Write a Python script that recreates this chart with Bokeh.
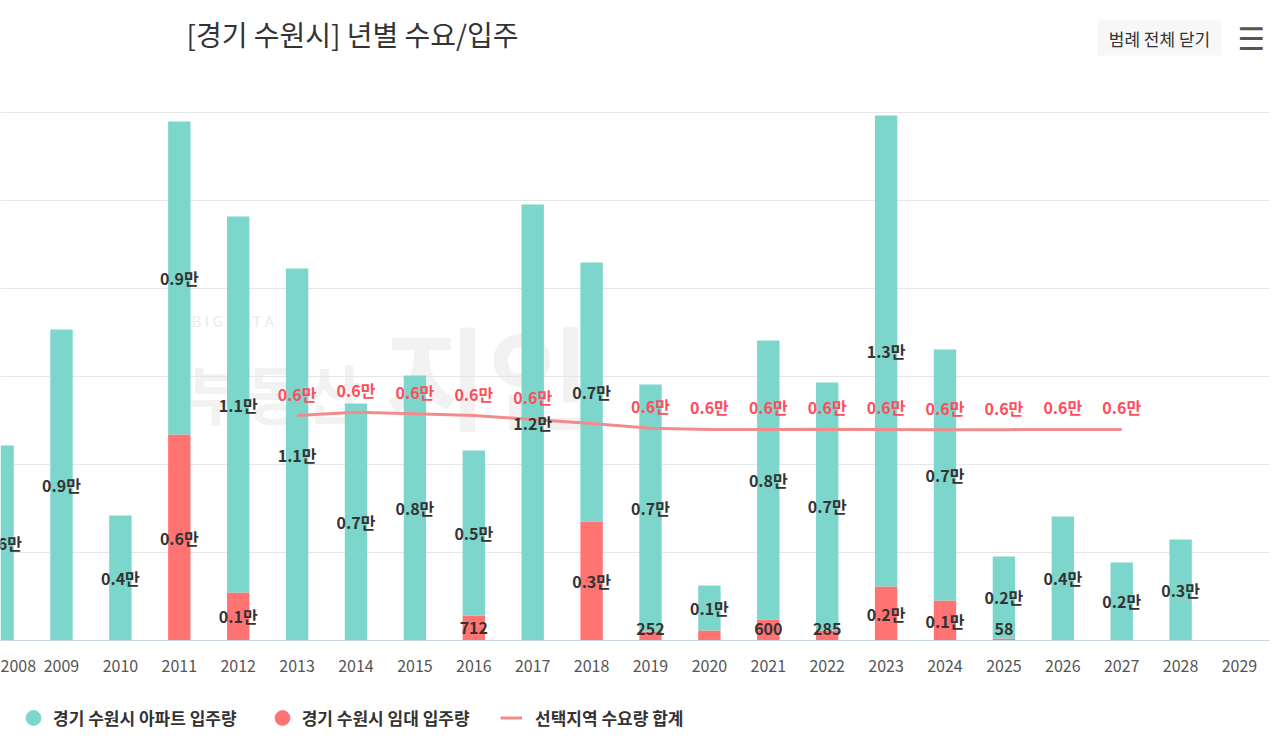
from bokeh.plotting import figure
from bokeh.layouts import column
from bokeh.models import Range1d, FixedTicker, Label, Legend, LegendItem, BoxAnnotation
from bokeh.core.properties import value
from bokeh.embed import file_html
from bokeh.resources import INLINE

# ---- data ----
years = list(range(2008, 2030))
apt_supply = [5540, 8835, 3551, 8892, 10681, 10568, 6733, 7530, 4686, 12386, 7358,
              7021, 1279, 7923, 7045, 13381, 7131, 2328, 3523, 2216, 2869, 0]
rent_supply = [0, 0, 0, 5852, 1364, 0, 0, 0, 712, 0, 3381,
               252, 284, 600, 285, 1534, 1136, 58, 0, 0, 0, 0]
demand_years = list(range(2013, 2028))
demand = [6392, 6486, 6441, 6392, 6279, 6165, 6032, 5995, 5995, 6000,
          5995, 5990, 5990, 5995, 5995]
rent_label_hidden = [2020]      # labels hidden in the original because they overlap
demand_label_hidden = [2018]
grid_ticks = [2500, 5000, 7500, 10000, 12500, 15000]

title_text = "[경기 수원시] 년별 수요/입주"
button_text = "범례 전체 닫기"
legend_names = ["경기 수원시 아파트 입주량", "경기 수원시 임대 입주량", "선택지역 수요량 합계"]

TEAL = "#7dd6cc"
RED = "#ff7373"
LINE = "#f28c8c"
LABEL_RED = "#ff4d5c"
WATERMARK = "#f2f2f2"
FONT = "Noto Sans CJK KR"

# ---- layout geometry (pixels) ----
W = 1280
MAIN_H = 676
LEGEND_H = 60
FRAME_RIGHT = 1269          # right edge of plot area
AXIS_Y = 640                # pixel row of the value 0
TOP_GRID_Y = 112            # pixel row of the top grid value
STEP = 58.9                 # pixels per category
FIRST_CAT_X = 61            # pixel column of 2009
X0 = 2009 - FIRST_CAT_X / STEP
X1 = X0 + FRAME_RIGHT / STEP
UNITS_PER_PX = grid_ticks[-1] / (AXIS_Y - TOP_GRID_Y)
Y1 = AXIS_Y * UNITS_PER_PX


def x_of(px):
    return X0 + px / STEP


def y_of(py):
    return (AXIS_Y - py) * UNITS_PER_PX


def fmt(v):
    if v >= 1000:
        return f"{v / 10000:.1f}만"
    return str(v)


p = figure(width=W, height=MAIN_H, output_backend="svg", toolbar_location=None,
           x_range=Range1d(X0, X1), y_range=Range1d(0, Y1),
           min_border_left=0, min_border_right=W - FRAME_RIGHT, min_border_top=0,
           min_border_bottom=MAIN_H - AXIS_Y)
p.outline_line_color = None
p.background_fill_color = "white"
p.border_fill_color = "white"

# watermark (background logo)
p.add_layout(Label(x=x_of(191), y=y_of(320), text="B  I  G  D  A  T  A", text_font=FONT,
                   text_font_size="15px", text_color="#ebebeb", text_baseline="middle",
                   level="image"))
p.add_layout(Label(x=x_of(186), y=y_of(390), text="부동산", text_font=FONT,
                   text_font_style="bold", text_font_size="64px",
                   text_color=WATERMARK, text_baseline="middle", level="image"))
p.add_layout(Label(x=x_of(384), y=y_of(372), text="지인", text_font=FONT,
                   text_font_style="bold", text_font_size="112px",
                   text_color=WATERMARK, text_baseline="middle", level="image"))

# bars
tops_all = [r + a for r, a in zip(rent_supply, apt_supply)]
p.vbar(x=years, bottom=0, top=rent_supply, width=0.38, color=RED, line_color=None)
p.vbar(x=years, bottom=rent_supply, top=tops_all, width=0.38, color=TEAL, line_color=None)

# demand line
p.line(demand_years, demand, line_color=LINE, line_width=3)

# bar labels
lx, ly, lt = [], [], []
for yr, a, r in zip(years, apt_supply, rent_supply):
    if a > 0:
        lx.append(yr); ly.append(r + a / 2); lt.append(fmt(a))
    if r > 0 and yr not in rent_label_hidden:
        lx.append(yr); ly.append(max(r / 2, 12 * UNITS_PER_PX)); lt.append(fmt(r))
p.text(x=lx, y=ly, text=lt, text_align="center", text_baseline="middle",
       text_font=value(FONT), text_font_style="bold", text_font_size="16px",
       text_color="#333333")

# demand labels
dx = [yr for yr in demand_years if yr not in demand_label_hidden]
dv = [v for yr, v in zip(demand_years, demand) if yr not in demand_label_hidden]
p.text(x=dx, y=dv, text=[fmt(v) for v in dv], y_offset=-22,
       text_align="center", text_baseline="middle",
       text_font=value(FONT), text_font_style="bold", text_font_size="16px",
       text_color=LABEL_RED)

# axes / grid
p.yaxis.visible = False
p.xgrid.visible = False
p.ygrid.ticker = FixedTicker(ticks=grid_ticks)
p.ygrid.grid_line_color = "#e6e6e6"
p.xaxis.ticker = FixedTicker(ticks=years)
p.xaxis.axis_line_color = "#ccd6eb"
p.xaxis.major_tick_line_color = None
p.xaxis.minor_tick_line_color = None
p.xaxis.major_label_standoff = 13
p.xaxis.major_label_text_font = FONT
p.xaxis.major_label_text_font_size = "16px"
p.xaxis.major_label_text_color = "#555555"

# title & buttons
p.add_layout(Label(x=x_of(352), y=y_of(33), text=title_text,
                   text_align="center", text_baseline="middle", text_font=FONT,
                   text_font_size="28px", text_color="#333333"))
p.add_layout(BoxAnnotation(left=x_of(1097), right=x_of(1221), top=y_of(20), bottom=y_of(55),
                           fill_color="#f7f7f7", fill_alpha=1, line_color=None))
p.add_layout(Label(x=x_of(1159), y=y_of(38), text=button_text,
                   text_align="center", text_baseline="middle", text_font=FONT,
                   text_font_size="17px", text_color="#333333"))
p.add_layout(Label(x=x_of(1251), y=y_of(38), text="☰",
                   text_align="center", text_baseline="middle", text_font="DejaVu Sans",
                   text_font_size="31px", text_color="#555555"))

# legend strip
lf = figure(width=W, height=LEGEND_H, output_backend="svg", toolbar_location=None,
            x_range=Range1d(0, 1), y_range=Range1d(0, 1),
            x_axis_type=None, y_axis_type=None, min_border=0)
lf.outline_line_color = None
lf.grid.visible = False
# legend sample glyphs sit outside the visible range; only their legend swatches show
leg_apt = lf.scatter([5], [5], marker="circle", size=16, color=TEAL)
leg_rent = lf.scatter([5], [5], marker="circle", size=16, color=RED)
leg_line = lf.line([5, 6], [5, 5], line_color=LINE, line_width=3)
common = dict(orientation="horizontal", border_line_color=None, background_fill_alpha=0,
              padding=0, label_text_font=FONT, label_text_font_style="bold",
              label_text_font_size="17px", label_text_color="#333333")
legend_a = Legend(items=[LegendItem(label=legend_names[0], renderers=[leg_apt]),
                         LegendItem(label=legend_names[1], renderers=[leg_rent])],
                  location=(14, 0), spacing=26, glyph_width=38, glyph_height=37,
                  label_standoff=1, **common)
legend_b = Legend(items=[LegendItem(label=legend_names[2], renderers=[leg_line])],
                  location=(500, 0), glyph_width=22, glyph_height=37,
                  label_standoff=13, **common)
lf.add_layout(legend_a)
lf.add_layout(legend_b)

open("out.html", "w").write(file_html(column(p, lf, spacing=0), INLINE))
